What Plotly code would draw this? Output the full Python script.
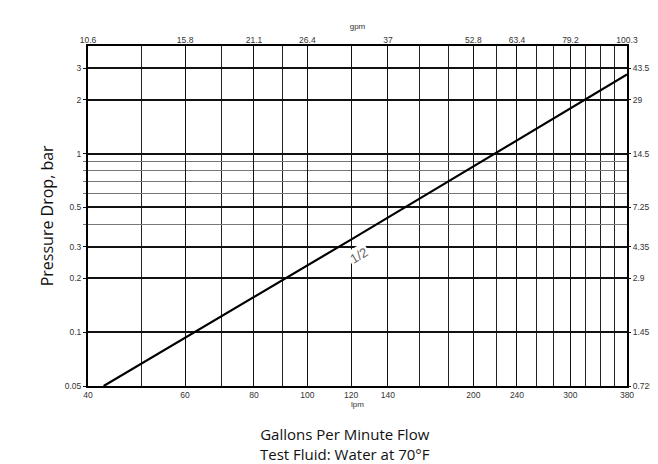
import math
import plotly.graph_objects as go

# ---- data ----
flow_lpm = [42.7, 120, 380]          # flow, litres per minute
drop_bar = [0.05, 0.33, 2.77]        # pressure drop, bar ("1/2" curve)
curve_label = "1/2"

lpm_ticks = [40, 60, 80, 100, 120, 140, 200, 240, 300, 380]
lpm_minor = [50, 70, 90, 160, 180, 220, 260, 280, 320, 340, 360]
gpm_tickvals = [40, 60, 80, 100, 140, 200, 240, 300, 380]
gpm_ticktext = ["10.6", "15.8", "21.1", "26.4", "37", "52.8", "63.4", "79.2", "100.3"]

bar_ticks = [0.05, 0.1, 0.2, 0.3, 0.5, 1, 2, 3]
bar_ticktext = ["0.05", "0.1", "0.2", "0.3", "0.5", "1", "2", "3"]
bar_minor = [0.4, 0.6, 0.7, 0.8, 0.9]
psi_ticktext = ["0.725", "1.45", "2.9", "4.35", "7.25", "14.5", "29", "43.5"]

x_range = [math.log10(40), math.log10(380)]
y_range = [math.log10(0.05), math.log10(4.0)]

tick_font = dict(family="Liberation Sans, Arial, sans-serif", size=8.5, color="#333")
small_title = dict(family="Liberation Sans, Arial, sans-serif", size=8, color="#333")
title_font = dict(family="Open Sans, sans-serif", size=16, color="#111")
bottom_font = dict(family="Open Sans, sans-serif", size=15, color="#111")

fig = go.Figure()
fig.add_trace(go.Scatter(x=flow_lpm, y=drop_bar, mode="lines",
                         line=dict(color="black", width=2.2),
                         xaxis="x", yaxis="y", showlegend=False, hoverinfo="skip"))
fig.add_trace(go.Scatter(x=flow_lpm, y=drop_bar, mode="lines",
                         line=dict(color="rgba(0,0,0,0)", width=0),
                         xaxis="x2", yaxis="y2", showlegend=False, hoverinfo="skip"))

fig.update_layout(
    width=658, height=464,
    margin=dict(l=80, r=35, t=38, b=86),
    paper_bgcolor="white", plot_bgcolor="white",
    xaxis=dict(type="log", range=x_range, tickmode="array", tickvals=lpm_ticks,
               ticktext=[str(v) for v in lpm_ticks], tickfont=tick_font,
               showgrid=True, gridcolor="#111", gridwidth=1.2,
               minor=dict(tickmode="array", tickvals=lpm_minor, showgrid=True,
                          gridcolor="#222", gridwidth=1.1),
               showline=True, linecolor="black", linewidth=2, mirror=True,
               ticks="", zeroline=False, anchor="y",
               title=dict(text="lpm", font=small_title, standoff=2)),
    xaxis2=dict(type="log", range=x_range, overlaying="x", side="top", anchor="y",
                tickmode="array", tickvals=gpm_tickvals, ticktext=gpm_ticktext,
                tickfont=tick_font, showgrid=False, ticks="", showline=False,
                zeroline=False,
                title=dict(text="gpm", font=small_title, standoff=4)),
    yaxis=dict(type="log", range=y_range, tickmode="array", tickvals=bar_ticks,
               ticktext=bar_ticktext, tickfont=tick_font,
               showgrid=True, gridcolor="#111", gridwidth=1.5,
               minor=dict(tickmode="array", tickvals=bar_minor, showgrid=True,
                          gridcolor="#777", gridwidth=1, ticks="outside", ticklen=3,
                          tickcolor="#777"),
               ticks="outside", ticklen=3, tickcolor="#111",
               showline=True, linecolor="black", linewidth=2, mirror=True,
               zeroline=False, anchor="x"),
    yaxis2=dict(type="log", range=y_range, overlaying="y", side="right", anchor="x",
                tickmode="array", tickvals=bar_ticks, ticktext=psi_ticktext,
                tickfont=tick_font, showgrid=False, ticks="outside", ticklen=3,
                tickcolor="#111", showline=False, zeroline=False),
    annotations=[
        dict(text=curve_label, x=math.log10(124), y=math.log10(0.268), xref="x", yref="y",
             showarrow=False, textangle=-31, bgcolor="white",
             font=dict(family="Liberation Sans, Arial", size=13, color="#666")),
        dict(text="Pressure Drop, bar", x=-0.0755, y=0.5, xref="paper", yref="paper",
             showarrow=False, textangle=-90, xanchor="center", yanchor="middle",
             font=title_font),
        dict(text="psi", x=1.048, y=0.48, xref="paper", yref="paper",
             showarrow=False, textangle=-90, xanchor="center", yanchor="middle",
             font=dict(family="Liberation Sans, Arial", size=8, color="#333")),
        dict(text="Gallons Per Minute Flow<br>Test Fluid: Water at 70°F",
             x=0.477, y=-0.236, xref="paper", yref="paper", showarrow=False,
             xanchor="center", yanchor="bottom", font=bottom_font),
    ],
)

fig.write_html("out.html")
